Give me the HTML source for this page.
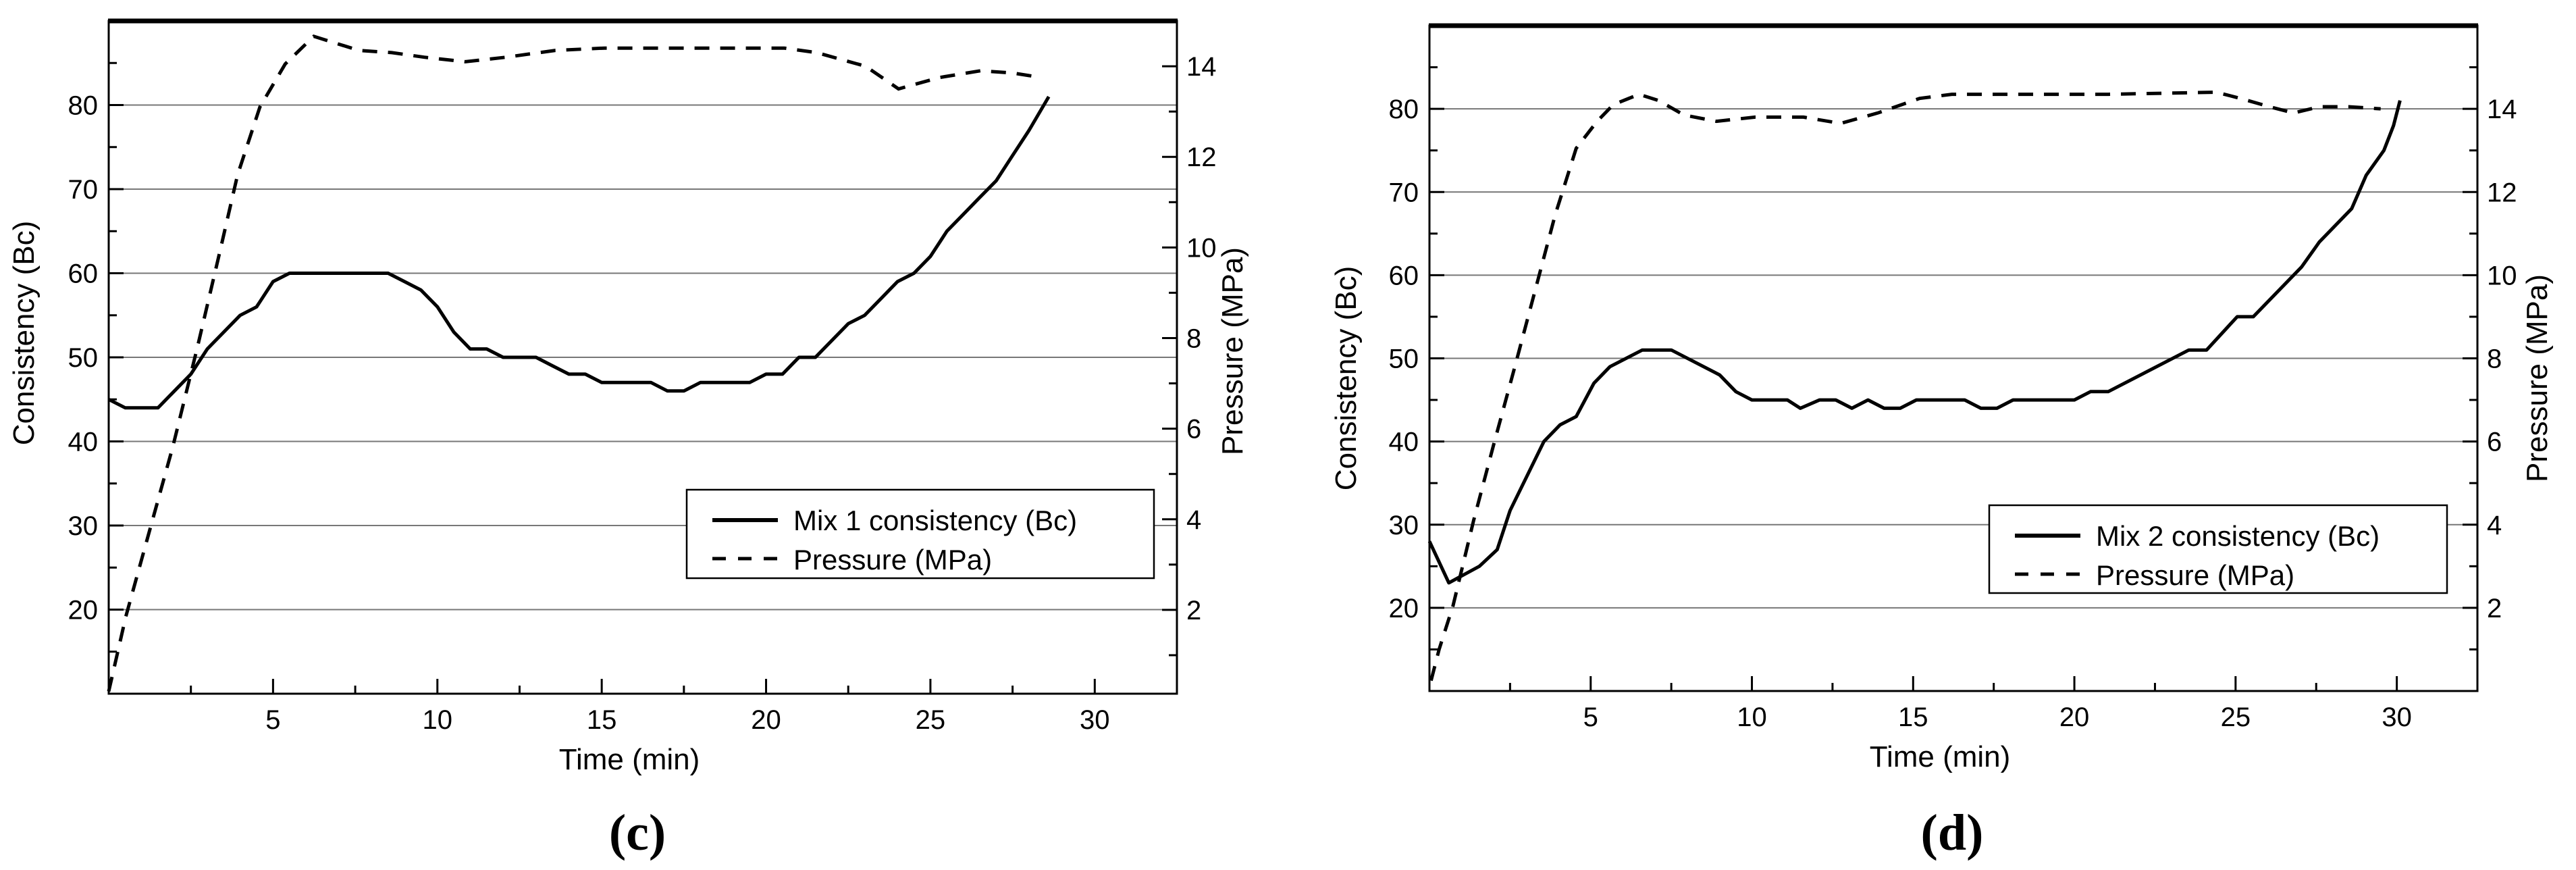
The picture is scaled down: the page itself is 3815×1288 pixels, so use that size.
<!DOCTYPE html>
<html><head><meta charset="utf-8"><style>
html,body{margin:0;padding:0;background:#fff}
svg{display:block}
text{font-family:"Liberation Sans",sans-serif;fill:#000}
</style></head><body>
<svg id="fig" width="3815" height="1288" viewBox="0 0 3815 1288" xmlns="http://www.w3.org/2000/svg"></svg>
<script>
// ---- Panel (c) data ----
const cTime = [0,0.5,1.5,2.5,3,3.5,4,4.5,5,5.5,8.5,9,9.5,10,10.5,11,11.5,12,13,13.5,14,14.5,15,16.5,17,17.5,18,19.5,20,20.5,21,21.5,22,22.5,23,23.5,24,24.5,25,25.5,26,26.5,27,27.5,28,28.6];
const cCons = [45,44,44,48,51,53,55,56,59,60,60,59,58,56,53,51,51,50,50,49,48,48,47,47,46,46,47,47,48,48,50,50,52,54,55,57,59,60,62,65,67,69,71,74,77,81];
const cPTime = [0,0.52,1.3,1.95,2.7,3.38,3.92,4.6,5.37,6.24,7.61,8.61,9.6,10.85,12.09,13.59,15.08,16.57,19.06,20.55,21.54,23.03,24.03,25.27,26.52,27.51,28.38];
const cPres = [0.2,1.85,3.9,5.6,7.8,9.9,11.6,13.1,14.05,14.66,14.35,14.3,14.2,14.1,14.2,14.35,14.4,14.4,14.4,14.4,14.3,14.0,13.5,13.75,13.9,13.85,13.75];
// ---- Panel (d) data ----
const dTime = [0,0.6,1.55,2.1,2.5,3.55,4.05,4.55,5.1,5.6,6.6,7.5,9,9.5,10,11.1,11.5,12.1,12.6,13.1,13.6,14.1,14.6,15.1,16.6,17.1,17.6,18.1,20,20.5,21.05,23.55,24.1,25.05,25.55,27.05,27.6,28.6,29.05,29.6,29.9,30.1];
const dCons = [28,23,25,27,31.7,40,42,43,47,49,51,51,48,46,45,45,44,45,45,44,45,44,44,45,45,44,44,45,45,46,46,51,51,55,55,61,64,68,72,75,78,81];
const dPTime = [0.05,0.3,0.73,1.37,2.0,2.65,3.3,3.9,4.55,5.2,5.7,6.5,7.1,7.9,8.9,10.1,11.6,12.75,13.9,15.2,16.2,18.5,21.05,24.4,25.15,26.05,26.8,27.6,28.5,29.5];
const dPres = [0.25,1.0,2.05,4.1,5.95,7.8,9.7,11.45,13.05,13.7,14.1,14.35,14.2,13.85,13.7,13.8,13.8,13.65,13.9,14.25,14.35,14.35,14.35,14.4,14.25,14.05,13.9,14.05,14.05,14.0];
const xTicks = [5,10,15,20,25,30];
const yTicks = [20,30,40,50,60,70,80];
const pTicksC = [2,4,6,8,10,12,14];
const pTicksD = [2,4,6,8,10,12,14];

const NS = "http://www.w3.org/2000/svg";
const svg = document.getElementById('fig');
function mk(tag, attrs, parent){
  const e = document.createElementNS(NS, tag);
  for (const k in attrs) e.setAttribute(k, attrs[k]);
  (parent||svg).appendChild(e);
  return e;
}

function panel(o){
  const g = mk('g', {});
  
  
  const X = t => o.L + (t - 0) / 32.5 * (o.R - o.L);
  const Y = c => o.B - (c - 10) / 80 * (o.B - o.T);
  const P = p => o.B - (p - o.pMin) / (o.pMax - o.pMin) * (o.B - o.T);
  yTicks.forEach(v => {
    const l = mk('line', {x1:o.L, x2:o.R, y1:Y(v), y2:Y(v), stroke:'#777', 'stroke-width':2}, g);
    
    
  });
  for (let v = 15; v < 90; v += 5) {
    const len = (v % 10 === 0) ? 22 : 12;
    mk('line', {x1:o.L, x2:o.L+len, y1:Y(v), y2:Y(v), stroke:'#000', 'stroke-width':3}, g);
  }
  for (let p = Math.ceil(o.pMin); p < o.pMax; p += 1) {
    const len = (p % 2 === 0) ? 22 : 12;
    mk('line', {x1:o.R, x2:o.R-len, y1:P(p), y2:P(p), stroke:'#000', 'stroke-width':3}, g);
  }
  for (let t = 2.5; t < 32.5; t += 2.5) {
    const len = (t % 5 === 0) ? 22 : 12;
    mk('line', {x1:X(t), x2:X(t), y1:o.B, y2:o.B-len, stroke:'#000', 'stroke-width':3}, g);
  }
  const fr = mk('rect', {x:o.L, y:o.T, width:o.R-o.L, height:o.B-o.T, fill:'none', stroke:'#000', 'stroke-width':3}, g);
  
  
  mk('line', {x1:o.L-1, x2:o.R+1, y1:o.T, y2:o.T, stroke:'#000', 'stroke-width':7}, g);
  yTicks.forEach(v => {
    const t = mk('text', {x:o.L-16, y:Y(v)+14, 'text-anchor':'end', 'font-size':40}, g);
    t.textContent = v;
    
    
  });
  o.pTicks.forEach(v => {
    const t = mk('text', {x:o.R+14, y:P(v)+14, 'text-anchor':'start', 'font-size':40}, g);
    t.textContent = v;
    
    
  });
  xTicks.forEach(v => {
    const t = mk('text', {x:X(v), y:o.B+52, 'text-anchor':'middle', 'font-size':40}, g);
    t.textContent = v;
    
    
  });
  const pc = o.cx.map((t,i) => X(t).toFixed(1)+','+Y(o.cy[i]).toFixed(1)).join(' ');
  const l1 = mk('polyline', {points:pc, fill:'none', stroke:'#000', 'stroke-width':5, 'stroke-linejoin':'round'}, g);
  
  
  const pp = o.px.map((t,i) => X(t).toFixed(1)+','+P(o.py[i]).toFixed(1)).join(' ');
  const l2 = mk('polyline', {points:pp, fill:'none', stroke:'#000', 'stroke-width':5, 'stroke-dasharray':'22 16'}, g);
  
  
  const yt = mk('text', {x:0, y:0, 'text-anchor':'middle', 'font-size':44, transform:`translate(${o.ytx},${o.yty}) rotate(-90)`}, g);
  yt.textContent = 'Consistency (Bc)';
  
  
  const y2 = mk('text', {x:0, y:0, 'text-anchor':'middle', 'font-size':44, transform:`translate(${o.y2tx},${o.y2ty}) rotate(-90)`}, g);
  y2.textContent = 'Pressure (MPa)';
  
  
  const xt = mk('text', {x:(o.L+o.R)/2 - 20, y:o.B+112, 'text-anchor':'middle', 'font-size':44}, g);
  xt.textContent = 'Time (min)';
  
  
  const lg = mk('g', {}, g);
  
  
  mk('rect', {x:o.lx, y:o.ly, width:o.lw, height:o.lh, fill:'#fff', stroke:'#000', 'stroke-width':2.5}, lg);
  mk('line', {x1:o.lx+38, x2:o.lx+135, y1:o.ly+45, y2:o.ly+45, stroke:'#000', 'stroke-width':6}, lg);
  mk('line', {x1:o.lx+38, x2:o.lx+135, y1:o.ly+102, y2:o.ly+102, stroke:'#000', 'stroke-width':5, 'stroke-dasharray':'20 18'}, lg);
  const t1 = mk('text', {x:o.lx+158, y:o.ly+60, 'font-size':42}, lg);
  t1.textContent = o.legend;
  
  
  const t2 = mk('text', {x:o.lx+158, y:o.ly+118, 'font-size':42}, lg);
  t2.textContent = 'Pressure (MPa)';
  
  
  const pl = mk('text', {x:o.letX, y:1258, 'text-anchor':'middle', 'font-size':76, 'font-weight':'bold', style:'font-family:"Liberation Serif",serif'}, g);
  pl.textContent = o.letter;
  
  
}

panel({name:'chart-c', L:161, R:1743, T:31, B:1027, pMin:0.15, pMax:15, pTicks:pTicksC,
  cx:cTime, cy:cCons, px:cPTime, py:cPres,
  ytx:50, yty:493, y2tx:1840, y2ty:520,
  lx:1017, ly:725, lw:692, lh:131, legend:'Mix 1 consistency (Bc)', letter:'(c)', letX:944});
panel({name:'chart-d', L:2117, R:3669, T:38, B:1023, pMin:0, pMax:16, pTicks:pTicksD,
  cx:dTime, cy:dCons, px:dPTime, py:dPres,
  ytx:2008, yty:560, y2tx:3772, y2ty:560,
  lx:2946, ly:748, lw:678, lh:130, legend:'Mix 2 consistency (Bc)', letter:'(d)', letX:2891});
</script>
</body></html>
